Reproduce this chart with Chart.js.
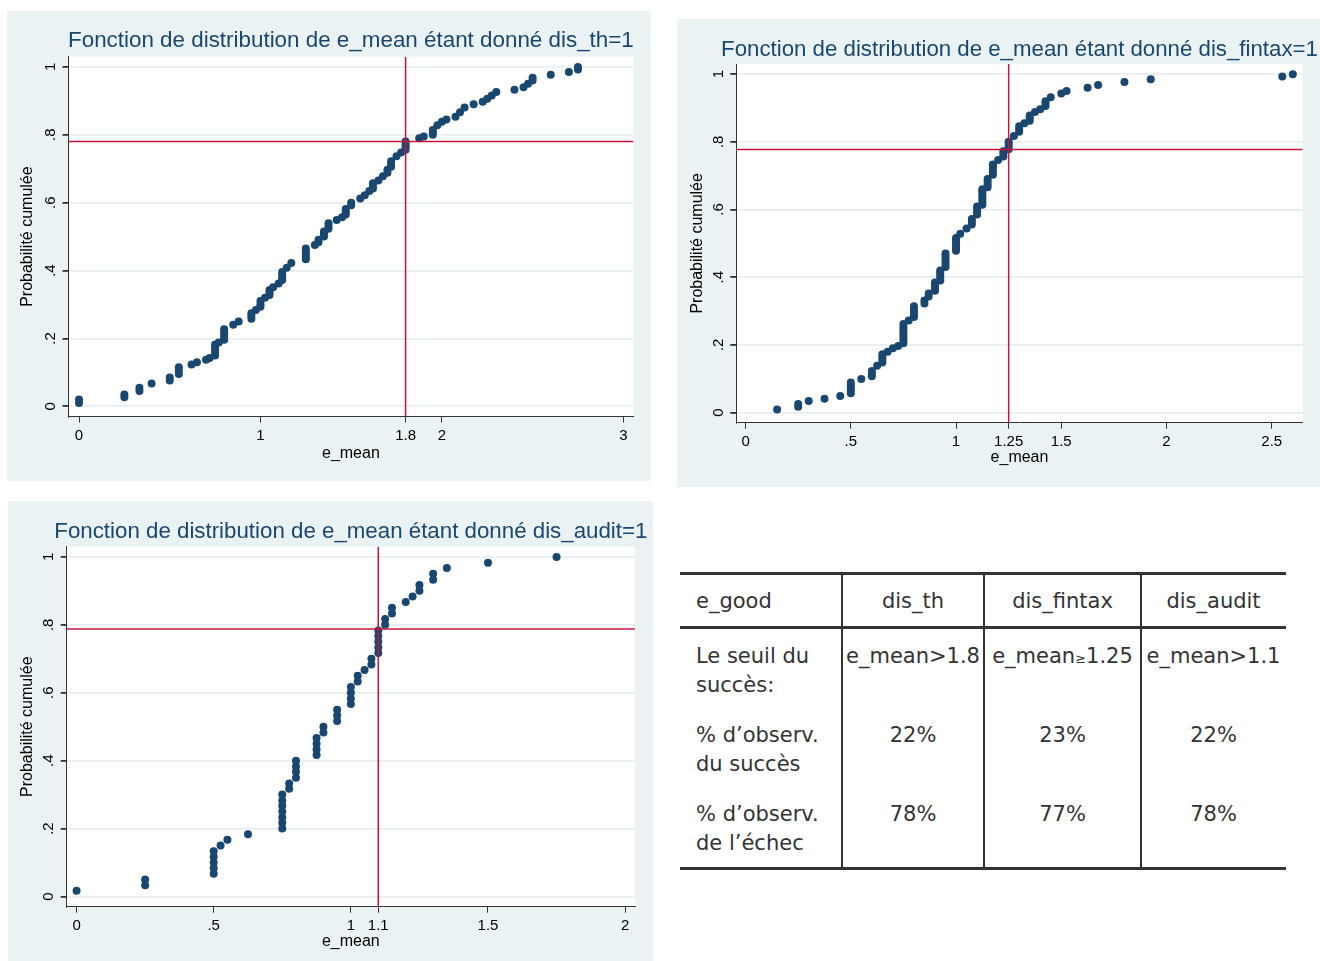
<!DOCTYPE html>
<html>
<head>
<meta charset="utf-8">
<script src="https://cdn.jsdelivr.net/npm/chart.js@4.4.1/dist/chart.umd.min.js"></script>
<style>
html,body{margin:0;padding:0;background:#ffffff;width:1320px;height:961px;overflow:hidden;}
.panel{position:absolute;background:#eaf2f3;}
.panel canvas{display:block;}
.tline{position:absolute;background:#333;}
.tcell{position:absolute;font-family:"DejaVu Sans",Verdana,sans-serif;font-size:21px;line-height:29px;color:#333;white-space:nowrap;}
.small{font-size:13px;}
</style>
</head>
<body>
<div class="panel" style="left:7px;top:11px;width:644px;height:470px"><canvas id="c1" width="644" height="470"></canvas></div>
<div class="panel" style="left:677px;top:19px;width:643px;height:468px"><canvas id="c2" width="643" height="468"></canvas></div>
<div class="panel" style="left:8px;top:501px;width:645px;height:460px"><canvas id="c3" width="645" height="460"></canvas></div>
<div id="table"></div>
<script>
// ---------------- DATA ----------------
const titles = [
  "Fonction de distribution de e_mean étant donné dis_th=1",
  "Fonction de distribution de e_mean étant donné dis_fintax=1",
  "Fonction de distribution de e_mean étant donné dis_audit=1"
];
const xAxisTitle = "e_mean";
const yAxisTitle = "Probabilité cumulée";
const yTicks = [0, 0.2, 0.4, 0.6, 0.8, 1];
const thXTicks = [0, 1, 1.8, 2, 3];
const fintaxXTicks = [0, 0.5, 1, 1.25, 1.5, 2, 2.5];
const auditXTicks = [0, 0.5, 1, 1.1, 1.5, 2];
const thresholdX = [1.8, 1.25, 1.1];
const thresholdY = [0.78, 0.777, 0.788];

// [e_mean, cumulative probability]
const thPoints = [
 [0,.010],[0,.020],[.25,.027],[.25,.035],[.333,.045],[.333,.055],[.4,.067],[.5,.076],[.5,.085],
 [.55,.095],[.55,.105],[.55,.115],[.62,.123],[.65,.130],[.7,.137],[.72,.142],
 [.75,.150],[.75,.158],[.75,.166],[.75,.174],[.75,.182],[.77,.188],
 [.8,.196],[.8,.204],[.8,.212],[.8,.220],[.8,.227],[.85,.240],[.88,.250],
 [.95,.258],[.95,.266],[.95,.274],[.975,.284],[1,.293],[1,.301],[1,.310],[1.025,.320],
 [1.05,.328],[1.05,.336],[1.05,.343],[1.07,.351],[1.1,.362],
 [1.12,.372],[1.12,.380],[1.12,.388],[1.12,.396],[1.145,.408],[1.17,.422],
 [1.25,.433],[1.25,.441],[1.25,.449],[1.25,.457],[1.25,.465],[1.3,.475],[1.32,.483],[1.32,.491],
 [1.35,.500],[1.35,.508],[1.35,.515],[1.375,.523],[1.375,.531],[1.375,.539],[1.42,.549],[1.45,.557],
 [1.47,.565],[1.47,.573],[1.47,.581],[1.5,.592],[1.5,.600],[1.55,.612],[1.575,.622],[1.6,.634],
 [1.62,.642],[1.62,.650],[1.62,.657],[1.65,.665],[1.675,.678],[1.7,.688],[1.7,.697],
 [1.72,.706],[1.72,.714],[1.72,.722],[1.75,.737],[1.775,.748],
 [1.8,.756],[1.8,.764],[1.8,.772],[1.8,.780],[1.875,.790],[1.9,.795],
 [1.95,.800],[1.95,.807],[1.95,.814],[1.975,.828],[2,.838],[2.025,.845],[2.075,.853],[2.1,.866],
 [2.125,.880],[2.175,.890],[2.225,.897],[2.25,.906],[2.275,.916],[2.3,.926],[2.4,.933],[2.45,.940],
 [2.475,.950],[2.5,.960],[2.5,.968],[2.6,.977],[2.7,.985],[2.75,.992],[2.75,1.0]
];
const fintaxPoints = [
 [.15,.009],[.25,.017],[.25,.025],[.3,.034],[.375,.041],[.45,.049],
 [.5,.057],[.5,.065],[.5,.073],[.5,.081],[.5,.089],[.55,.099],[.6,.107],[.6,.115],[.6,.123],[.625,.138],
 [.65,.148],[.65,.156],[.65,.164],[.65,.172],[.675,.180],[.7,.190],[.725,.197],
 [.75,.205],[.75,.213],[.75,.221],[.75,.229],[.75,.237],[.75,.245],[.75,.253],[.75,.262],[.775,.272],
 [.8,.282],[.8,.290],[.8,.298],[.8,.306],[.8,.314],[.85,.322],[.85,.331],[.87,.343],[.87,.352],
 [.9,.360],[.9,.368],[.9,.376],[.9,.384],[.925,.390],[.925,.398],[.925,.406],[.925,.414],[.925,.420],
 [.95,.430],[.95,.438],[.95,.446],[.95,.454],[.95,.462],[.95,.470],
 [1,.478],[1,.486],[1,.494],[1,.502],[1,.510],[1,.516],[1.02,.528],[1.05,.544],
 [1.075,.556],[1.075,.564],[1.075,.572],[1.1,.585],[1.1,.593],[1.1,.601],[1.1,.609],
 [1.125,.614],[1.125,.622],[1.125,.630],[1.125,.638],[1.125,.646],[1.125,.654],[1.125,.660],
 [1.15,.666],[1.15,.674],[1.15,.682],[1.15,.690],[1.175,.703],[1.175,.711],[1.175,.719],[1.175,.727],[1.175,.733],
 [1.2,.746],[1.225,.757],[1.225,.765],[1.225,.772],[1.25,.778],[1.25,.786],[1.25,.794],[1.25,.800],
 [1.275,.817],[1.3,.830],[1.3,.838],[1.3,.846],[1.325,.855],[1.35,.862],[1.35,.870],[1.35,.878],
 [1.375,.888],[1.4,.896],[1.425,.906],[1.425,.913],[1.425,.920],[1.45,.932],[1.5,.943],[1.525,.950],
 [1.625,.960],[1.675,.968],[1.8,.977],[1.925,.985],[2.55,.993],[2.6,1.0]
];
const auditPoints = [
 [0,.017],[.25,.033],[.25,.050],[.5,.067],[.5,.083],[.5,.100],[.5,.117],[.5,.133],[.525,.150],[.55,.167],[.625,.183],
 [.75,.200],[.75,.217],[.75,.233],[.75,.250],[.75,.267],[.75,.283],[.75,.300],[.775,.317],[.775,.333],
 [.8,.350],[.8,.367],[.8,.383],[.8,.400],[.875,.417],[.875,.433],[.875,.450],[.875,.467],[.9,.483],[.9,.500],
 [.95,.517],[.95,.533],[.95,.550],[1,.567],[1,.583],[1,.600],[1,.617],[1.025,.633],[1.025,.650],[1.05,.667],
 [1.075,.683],[1.075,.700],[1.1,.717],[1.1,.733],[1.1,.750],[1.1,.767],[1.1,.783],[1.125,.800],[1.125,.817],
 [1.15,.833],[1.15,.850],[1.2,.867],[1.225,.883],[1.25,.900],[1.25,.917],[1.3,.933],[1.3,.950],[1.35,.967],
 [1.5,.983],[1.75,1.0]
];

const tableHead = ["e_good", "dis_th", "dis_fintax", "dis_audit"];
const tableRowLabels = [["Le seuil du", "succès:"], ["% d’observ.", "du succès"], ["% d’observ.", "de l’échec"]];
const tableThresholds = ["e_mean>1.8", "e_mean≥1.25", "e_mean>1.1"];
const tableSuccess = ["22%", "23%", "22%"];
const tableFailure = ["78%", "77%", "78%"];

// ---------------- STYLE ----------------
const NAVY = "#1a476f";
const RED = "#c8143c";
const GRID = "#e6eef0";
const AXIS = "#333333";
const FONT = "'Liberation Sans', Arial, Helvetica, sans-serif";
const Y_MIN = -0.03, Y_MAX = 1.03;

function fmt(v) {
  if (Math.abs(v) < 1e-9) return "0";
  if (Number.isInteger(v)) return String(v);
  return String(+v.toFixed(4)).replace(/^0\./, ".");
}

const bgPlugin = {
  id: "plotbg",
  beforeDraw(chart) {
    const a = chart.chartArea, ctx = chart.ctx;
    ctx.save();
    ctx.fillStyle = "#ffffff";
    ctx.fillRect(a.left, a.top, a.right - a.left, a.bottom - a.top);
    ctx.restore();
  }
};

// title centred on the plot region (Stata style), drawn without width squeezing
const panelTitlePlugin = {
  id: "panelTitle",
  afterDraw(chart, args, opts) {
    const a = chart.chartArea, ctx = chart.ctx;
    ctx.save();
    ctx.font = opts.size + "px " + FONT;
    ctx.fillStyle = NAVY;
    ctx.textAlign = "center";
    ctx.textBaseline = "middle";
    ctx.fillText(opts.text, (a.left + a.right) / 2, opts.y);
    ctx.restore();
  }
};

function makePanel(id, cfg) {
  const canvas = document.getElementById(id);
  const W = canvas.width, H = canvas.height;
  const A = cfg.area;
  const aSize = 16, aLH = aSize * 1.2;
  new Chart(canvas, {
    type: "scatter",
    data: {
      datasets: [
        { data: [{x: cfg.thrX, y: Y_MIN}, {x: cfg.thrX, y: Y_MAX}], showLine: true, borderColor: RED, borderWidth: 1.5, pointRadius: 0, order: 0 },
        { data: [{x: cfg.xMin, y: cfg.thrY}, {x: cfg.xMax, y: cfg.thrY}], showLine: true, borderColor: RED, borderWidth: 1.5, pointRadius: 0, order: 0 },
        { data: cfg.points.map(p => ({x: p[0], y: p[1]})), backgroundColor: NAVY, borderColor: NAVY, borderWidth: 0, pointRadius: 4, pointHoverRadius: 4, order: 1 }
      ]
    },
    options: {
      responsive: false, animation: false, devicePixelRatio: 1,
      events: [],
      layout: { padding: { left: 0, top: A.t, right: W - A.r, bottom: 0 } },
      plugins: {
        legend: { display: false },
        tooltip: { enabled: false },
        title: { display: false },
        panelTitle: { text: cfg.title, size: cfg.titleSize, y: A.tc }
      },
      scales: {
        x: {
          type: "linear", min: cfg.xMin, max: cfg.xMax,
          afterBuildTicks: s => { s.ticks = cfg.xTicks.map(v => ({ value: v })); },
          afterFit: s => { s.height = H - A.b; },
          ticks: { autoSkip: false, maxRotation: 0, minRotation: 0, padding: 4, color: "#000", font: { family: FONT, size: 15 }, callback: v => fmt(v) },
          grid: { drawOnChartArea: false, tickLength: 6, tickColor: AXIS, lineWidth: 1 },
          border: { color: AXIS, width: 1 },
          title: { display: true, text: xAxisTitle, color: "#000", font: { family: FONT, size: aSize, lineHeight: 1.2 }, padding: { top: 0, bottom: H - A.xt - aLH / 2 } }
        },
        y: {
          type: "linear", min: Y_MIN, max: Y_MAX,
          afterBuildTicks: s => { s.ticks = yTicks.map(v => ({ value: v })); },
          afterFit: s => { s.width = A.l; },
          ticks: { autoSkip: false, minRotation: 90, maxRotation: 90, crossAlign: "center", padding: 5.5, color: "#000", font: { family: FONT, size: 15 }, callback: v => fmt(v) },
          grid: { color: GRID, lineWidth: 1.8, tickLength: 6, tickColor: AXIS, drawOnChartArea: true },
          border: { color: AXIS, width: 1 },
          title: { display: true, text: yAxisTitle, color: "#000", font: { family: FONT, size: aSize, lineHeight: 1.2 }, padding: { top: A.yt - aLH / 2, bottom: 0 } }
        }
      }
    },
    plugins: [bgPlugin, panelTitlePlugin]
  });
}

makePanel("c1", { title: titles[0], titleSize: 22.4, points: thPoints, xTicks: thXTicks, xMin: -0.058, xMax: 3.055, thrX: thresholdX[0], thrY: thresholdY[0],
  area: { l: 61.5, t: 45.7, r: 626.3, b: 405.5, tc: 30, yt: 21, xt: 442.3 } });
makePanel("c2", { title: titles[1], titleSize: 22.25, points: fintaxPoints, xTicks: fintaxXTicks, xMin: -0.044, xMax: 2.647, thrX: thresholdX[1], thrY: thresholdY[1],
  area: { l: 59.3, t: 45, r: 625.7, b: 403.7, tc: 30.5, yt: 21, xt: 439 } });
makePanel("c3", { title: titles[2], titleSize: 22.3, points: auditPoints, xTicks: auditXTicks, xMin: -0.036, xMax: 2.036, thrX: thresholdX[2], thrY: thresholdY[2],
  area: { l: 58.7, t: 45.7, r: 627, b: 405.7, tc: 30.7, yt: 20, xt: 441 } });

// ---------------- TABLE ----------------
(function buildTable() {
  const root = document.getElementById("table");
  const colLeft = [680, 842, 984, 1141], colRight = [842, 984, 1141, 1286];
  const rowTop = [586.5, 641.5, 720.5, 799.5];
  function line(l, t, w, h) { const d = document.createElement("div"); d.className = "tline"; Object.assign(d.style, { left: l + "px", top: t + "px", width: w + "px", height: h + "px" }); root.appendChild(d); }
  function cell(col, row, html) {
    const d = document.createElement("div"); d.className = "tcell";
    if (col === 0) { d.style.left = "696px"; d.style.textAlign = "left"; }
    else { d.style.left = colLeft[col] + "px"; d.style.width = (colRight[col] - colLeft[col]) + "px"; d.style.textAlign = "center"; }
    d.style.top = rowTop[row] + "px";
    d.innerHTML = html; root.appendChild(d);
  }
  line(680, 571.5, 606, 3); line(680, 625.5, 606, 3); line(680, 866.5, 606, 3);
  line(841, 573, 2, 295); line(983, 573, 2, 295); line(1140, 573, 2, 295);
  tableHead.forEach((h, i) => cell(i, 0, h));
  tableRowLabels.forEach((lbl, r) => cell(0, r + 1, lbl.join("<br>")));
  tableThresholds.forEach((t, i) => cell(i + 1, 1, t.replace("≥", '<span class="small">≥</span>')));
  tableSuccess.forEach((t, i) => cell(i + 1, 2, t));
  tableFailure.forEach((t, i) => cell(i + 1, 3, t));
})();
</script>
</body>
</html>
